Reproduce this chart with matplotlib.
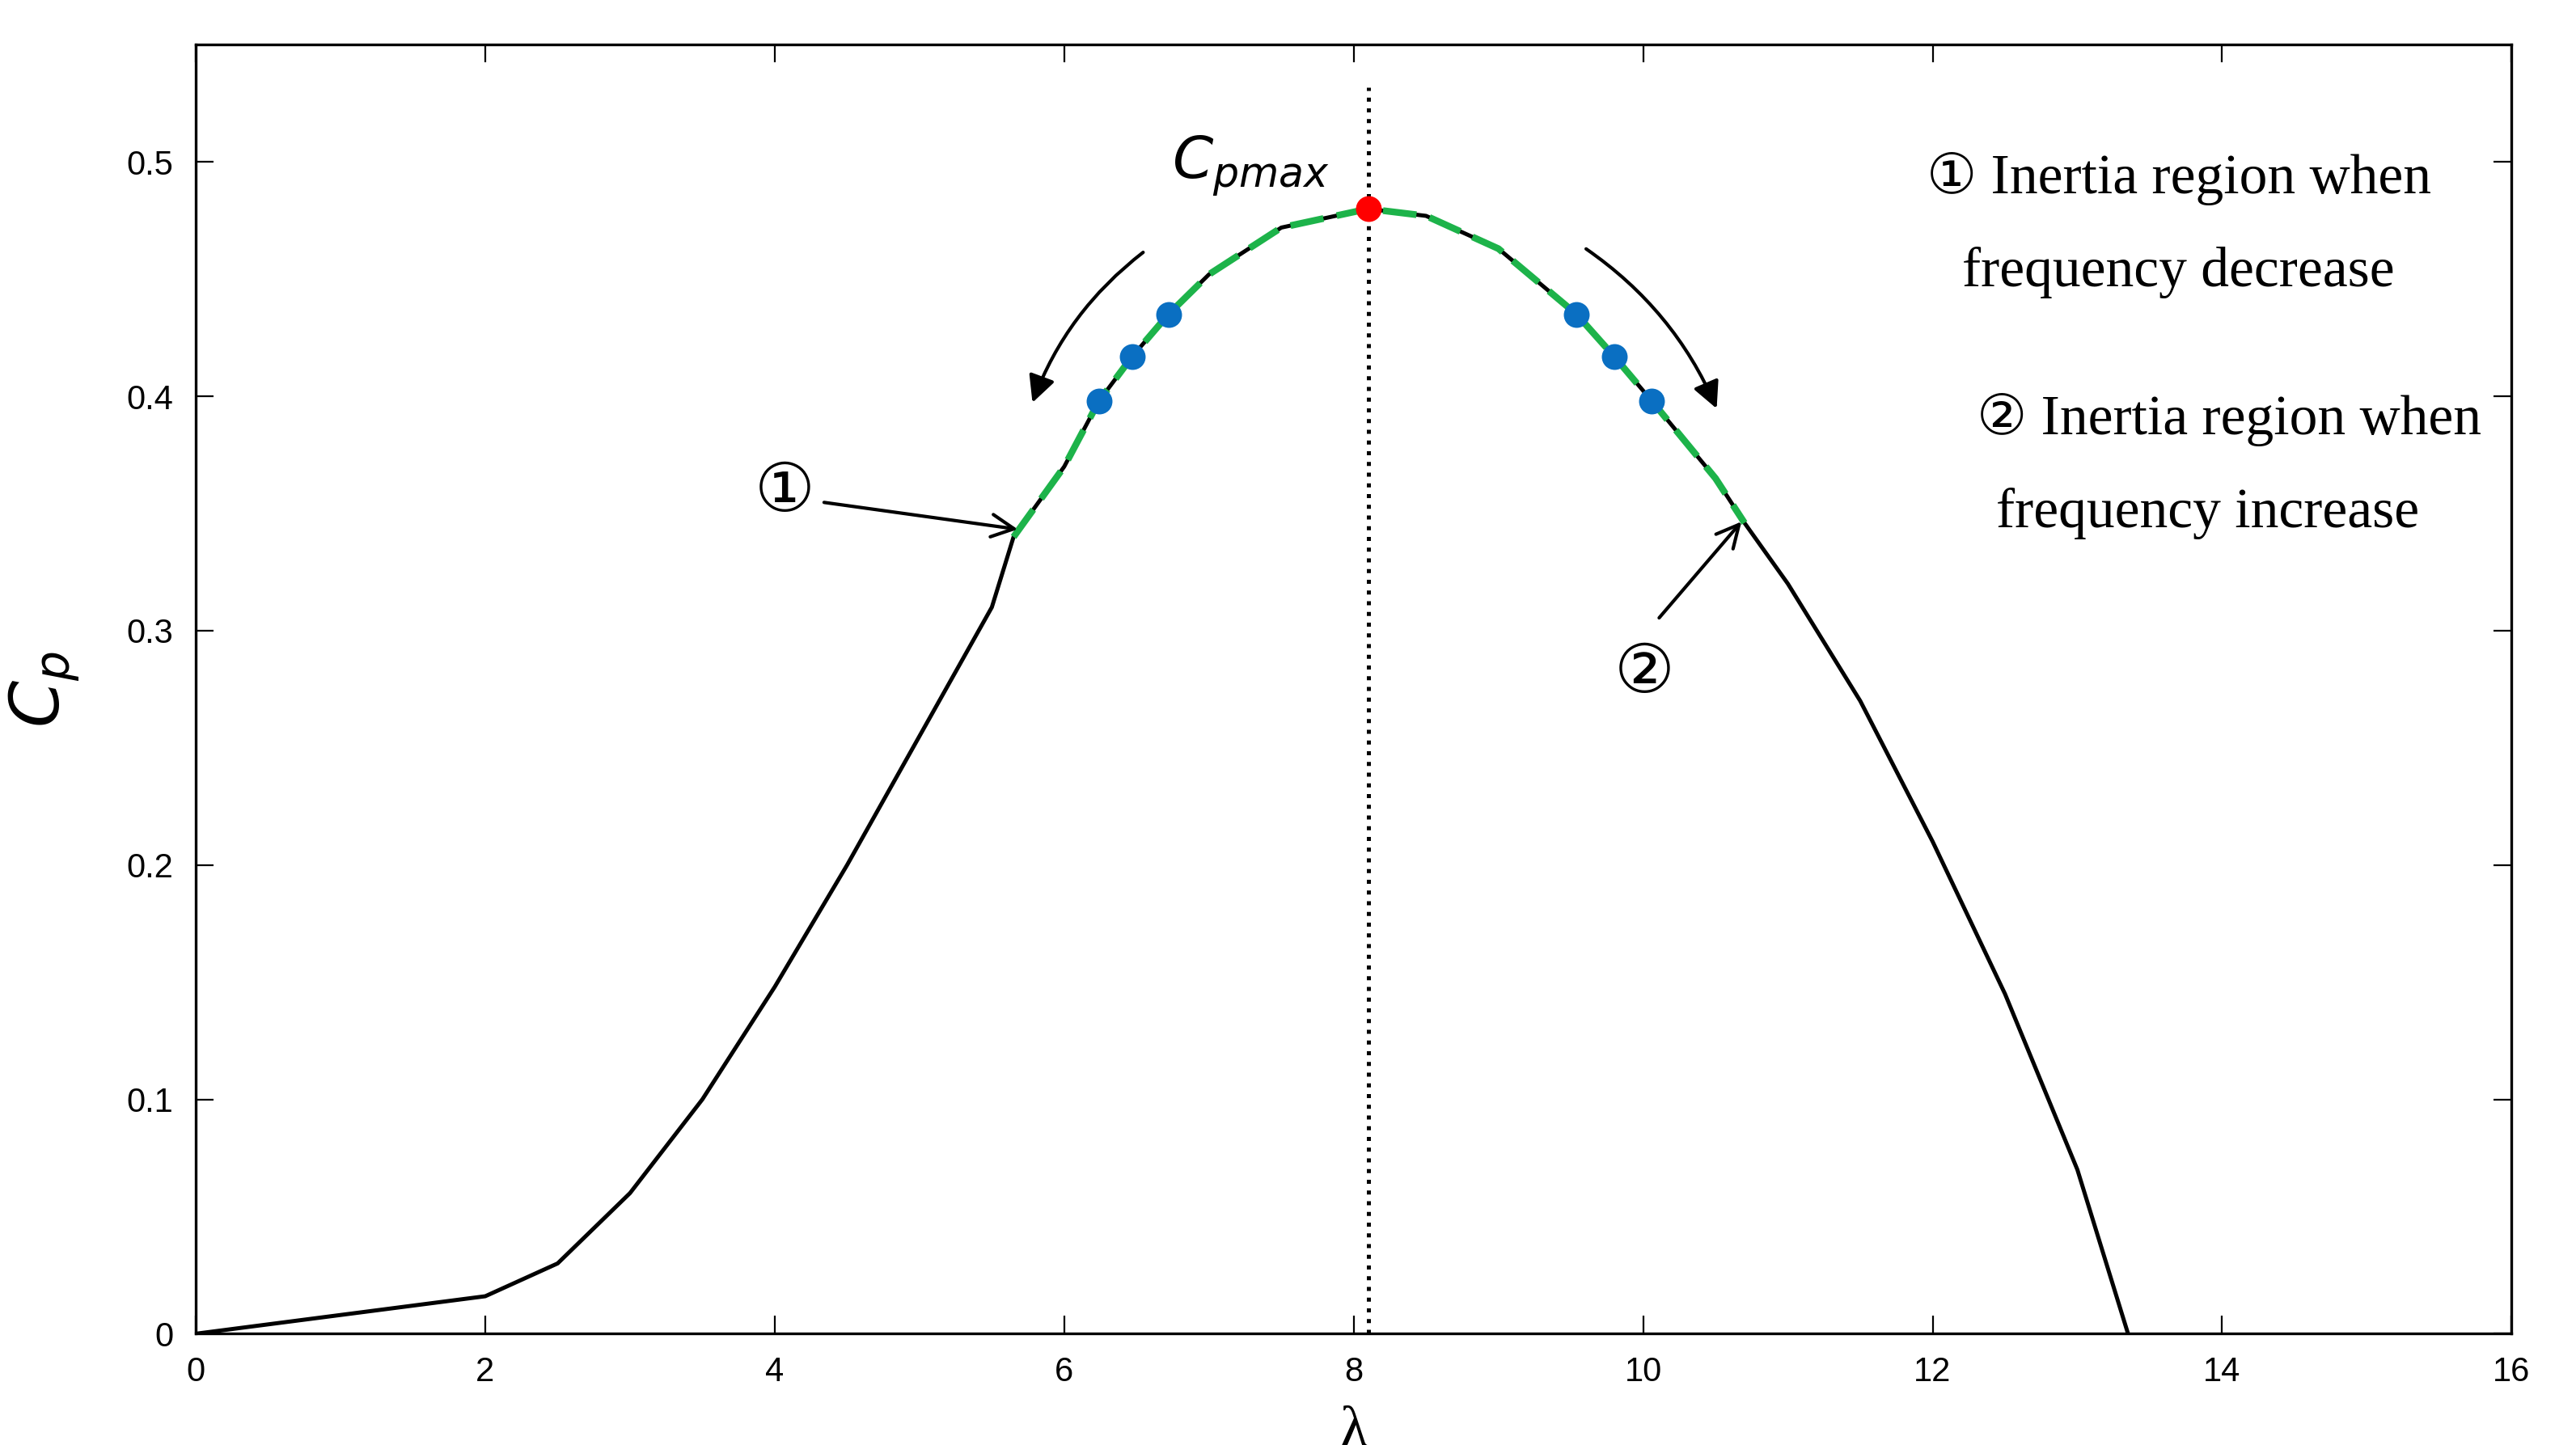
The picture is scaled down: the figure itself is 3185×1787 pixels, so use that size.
import numpy as np
import matplotlib
matplotlib.use("Agg")
import matplotlib.pyplot as plt

lam = [0, 1, 2, 2.5, 3, 3.5, 4, 4.5, 5, 5.5, 5.65, 6, 6.24, 6.47, 6.72, 7, 7.5, 8.1, 8.5, 9, 9.54, 9.8, 10.06, 10.5, 10.7, 11, 11.5, 12, 12.5, 13, 13.35]
cp = [0, 0.008, 0.016, 0.03, 0.06, 0.10, 0.148, 0.20, 0.255, 0.31, 0.34, 0.37, 0.398, 0.417, 0.435, 0.452, 0.472, 0.48, 0.477, 0.463, 0.435, 0.417, 0.398, 0.365, 0.346, 0.32, 0.27, 0.21, 0.145, 0.07, 0]
green_range = (5.65, 10.7)
blue_lam = [6.24, 6.47, 6.72, 9.54, 9.80, 10.06]
blue_cp = [0.398, 0.417, 0.435, 0.435, 0.417, 0.398]
peak = (8.1, 0.48)
xticks = [0, 2, 4, 6, 8, 10, 12, 14, 16]
yticks = [0, 0.1, 0.2, 0.3, 0.4, 0.5]

serif = "Liberation Serif"
fig = plt.figure(figsize=(15.925, 8.935), dpi=200)
ax = fig.add_axes([0.076, 0.077, 0.899, 0.892])

lam_a = np.array(lam); cp_a = np.array(cp)
ax.plot(lam_a, cp_a, color="black", lw=1.8, zorder=2)
m = (lam_a >= green_range[0]) & (lam_a <= green_range[1])
ax.plot(lam_a[m], cp_a[m], color="#1db34a", lw=3, ls=(0, (5, 2)), zorder=3)
ax.plot([peak[0], peak[0]], [0, 0.532], color="black", ls=":", lw=1.8, zorder=1)
ax.scatter(blue_lam, blue_cp, s=110, color="#0a6fc2", zorder=4)
ax.scatter([peak[0]], [peak[1]], s=110, color="red", zorder=5)

ax.set_xlim(0, 16); ax.set_ylim(0, 0.55)
ax.set_xticks(xticks); ax.set_yticks(yticks)
ax.set_yticklabels(["0", "0.1", "0.2", "0.3", "0.4", "0.5"])
ax.tick_params(labelsize=15, direction="in", length=8, right=True, top=True, pad=10)
for t in ax.get_xticklabels() + ax.get_yticklabels():
    t.set_family("Liberation Sans")
for s in ax.spines.values():
    s.set_linewidth(1.2)
ax.set_ylabel("$C_p$", fontsize=30, family=serif, labelpad=20)
ax.set_xlabel("λ", fontsize=26, family=serif, labelpad=8)

ax.text(7.29, 0.498, "$C_{pmax}$", fontsize=26, ha="center", va="center")
ax.text(4.07, 0.359, "①", fontsize=30, family=["DejaVu Sans"], ha="center", va="center")
ax.text(10.01, 0.282, "②", fontsize=30, family=["DejaVu Sans"], ha="center", va="center")
ax.annotate("", xy=(5.71, 0.343), xytext=(4.31, 0.355),
            arrowprops=dict(arrowstyle="->", lw=1.5, color="black", mutation_scale=25))
ax.annotate("", xy=(10.7, 0.348), xytext=(10.09, 0.304),
            arrowprops=dict(arrowstyle="->", lw=1.5, color="black", mutation_scale=25))
ax.annotate("", xy=(5.77, 0.3955), xytext=(6.57, 0.4626),
            arrowprops=dict(arrowstyle="-|>", lw=1.5, color="black", mutation_scale=25,
                            connectionstyle="arc3,rad=0.15"))
ax.annotate("", xy=(10.52, 0.393), xytext=(9.58, 0.464),
            arrowprops=dict(arrowstyle="-|>", lw=1.5, color="black", mutation_scale=25,
                            connectionstyle="arc3,rad=-0.15"))

fs = 25
ax.text(13.7, 0.493, "① Inertia region when", fontsize=fs, family=[serif, "DejaVu Sans"], ha="center", va="center")
ax.text(13.7, 0.453, "frequency decrease", fontsize=fs, family=serif, ha="center", va="center")
ax.text(14.05, 0.390, "② Inertia region when", fontsize=fs, family=[serif, "DejaVu Sans"], ha="center", va="center")
ax.text(13.9, 0.350, "frequency increase", fontsize=fs, family=serif, ha="center", va="center")

fig.savefig("out.png", dpi=200)
